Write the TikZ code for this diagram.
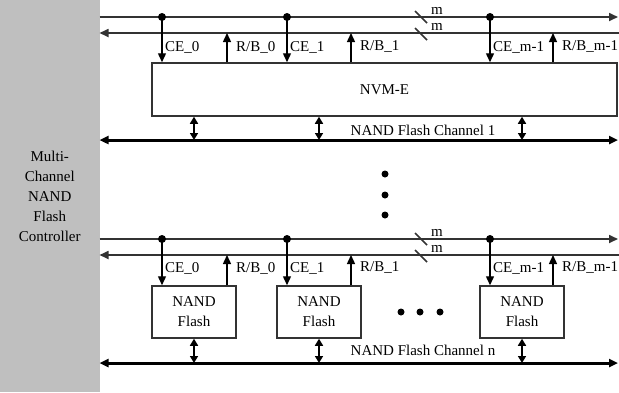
\documentclass[tikz,border=0pt]{standalone}
\usepackage{fontspec}
\setmainfont{Liberation Serif}
\usetikzlibrary{arrows.meta, positioning, calc}

\begin{document}
\begin{tikzpicture}[x=1pt, y=-1pt,
    font=\fontsize{15}{20}\selectfont,
    >={Triangle[length=9pt,width=8pt]},
    bus/.style={line width=1.7pt, draw=black!80},
    chan/.style={line width=3pt, <->},
    sig/.style={line width=1.4pt, ->},
    bidir/.style={line width=1.6pt, {Triangle[length=7pt,width=8pt]}-{Triangle[length=7pt,width=8pt]}},
    chip/.style={draw=black!80, line width=1.5pt, inner sep=0pt, align=center},
    sigl/.style={anchor=west, inner sep=0pt},
    dot/.style={circle, fill, inner sep=0pt, minimum size=8pt}]
    \useasboundingbox (0,0) rectangle (619,392);

    % controller
    \node[fill=black!25, minimum width=99.5pt, minimum height=392pt, align=center, inner sep=0pt] (ctrl) at (49.75,196) {Multi-\\Channel\\NAND\\Flash\\Controller};

    % channel 1
    \coordinate (t1w) at (99.5,17);  \coordinate (t1e) at (618,17);
    \coordinate (t2w) at (99.5,33);  \coordinate (t2e) at (619,33);
    \coordinate (c1w) at (99.5,140); \coordinate (c1e) at (618,140);
    \draw[bus,->] (t1w) -- (t1e);
    \draw[bus,<-] (t2w) -- (t2e);
    \draw[chan] (c1w) -- (c1e);
    \draw[bus] (415,11) -- (427,23);
    \draw[bus] (415,28) -- (427,40);
    \node (tm1) at (437,11) {m};
    \node (tm2) at (437,27) {m};
    \node[chip, minimum width=465pt, minimum height=53pt] (nvm) at (384.5,89.5) {NVM-E};
    \node (tch) at (423,130) {NAND Flash Channel 1};

    \foreach \cx/\rx/\bx/\i/\k in {162/227/194/0/0, 287/351/319/1/1, 490/553/522/2/m-1} {
        \node[dot] (td\i) at (\cx,17) {};
        \coordinate (tr\i) at (\rx,33);
        \coordinate (tb\i) at (\bx,140);
        \draw[sig] (td\i.center) -- (td\i |- nvm.north);
        \draw[sig] (tr\i |- nvm.north) -- (tr\i);
        \draw[bidir] (tb\i |- nvm.south) -- (tb\i);
        \node[sigl] (tce\i) at (\cx+3,47) {CE\_\k};
        \node[sigl] (trb\i) at (\rx+9,47) {R/B\_\k};
    }

    % more channels
    \node[dot, minimum size=7pt] (vd1) at (385,174) {};
    \node[dot, minimum size=7pt] (vd2) at (385,195) {};
    \node[dot, minimum size=7pt] (vd3) at (385,215) {};

    % channel n
    \coordinate (b1w) at (99.5,239); \coordinate (b1e) at (618,239);
    \coordinate (b2w) at (99.5,255); \coordinate (b2e) at (619,255);
    \coordinate (cnw) at (99.5,363); \coordinate (cne) at (618,363);
    \draw[bus,->] (b1w) -- (b1e);
    \draw[bus,<-] (b2w) -- (b2e);
    \draw[chan] (cnw) -- (cne);
    \draw[bus] (415,233) -- (427,245);
    \draw[bus] (415,250) -- (427,262);
    \node (bm1) at (437,233) {m};
    \node (bm2) at (437,249) {m};
    \node (bch) at (423,350) {NAND Flash Channel n};

    \foreach \cx/\rx/\bx/\i/\k in {162/227/194/0/0, 287/351/319/1/1, 490/553/522/2/m-1} {
        \node[chip, minimum width=84pt, minimum height=52pt] (flash\i) at (\bx,312) {NAND\\Flash};
        \node[dot] (bd\i) at (\cx,239) {};
        \coordinate (br\i) at (\rx,255);
        \coordinate (bb\i) at (\bx,363);
        \draw[sig] (bd\i.center) -- (bd\i |- flash\i.north);
        \draw[sig] (br\i |- flash\i.north) -- (br\i);
        \draw[bidir] (bb\i |- flash\i.south) -- (bb\i);
        \node[sigl] (bce\i) at (\cx+3,268) {CE\_\k};
        \node[sigl] (brb\i) at (\rx+9,268) {R/B\_\k};
    }
    \node[dot, minimum size=7pt] (hd1) at (401,312) {};
    \node[dot, minimum size=7pt] (hd2) at (420,312) {};
    \node[dot, minimum size=7pt] (hd3) at (440,312) {};
\end{tikzpicture}
\end{document}
